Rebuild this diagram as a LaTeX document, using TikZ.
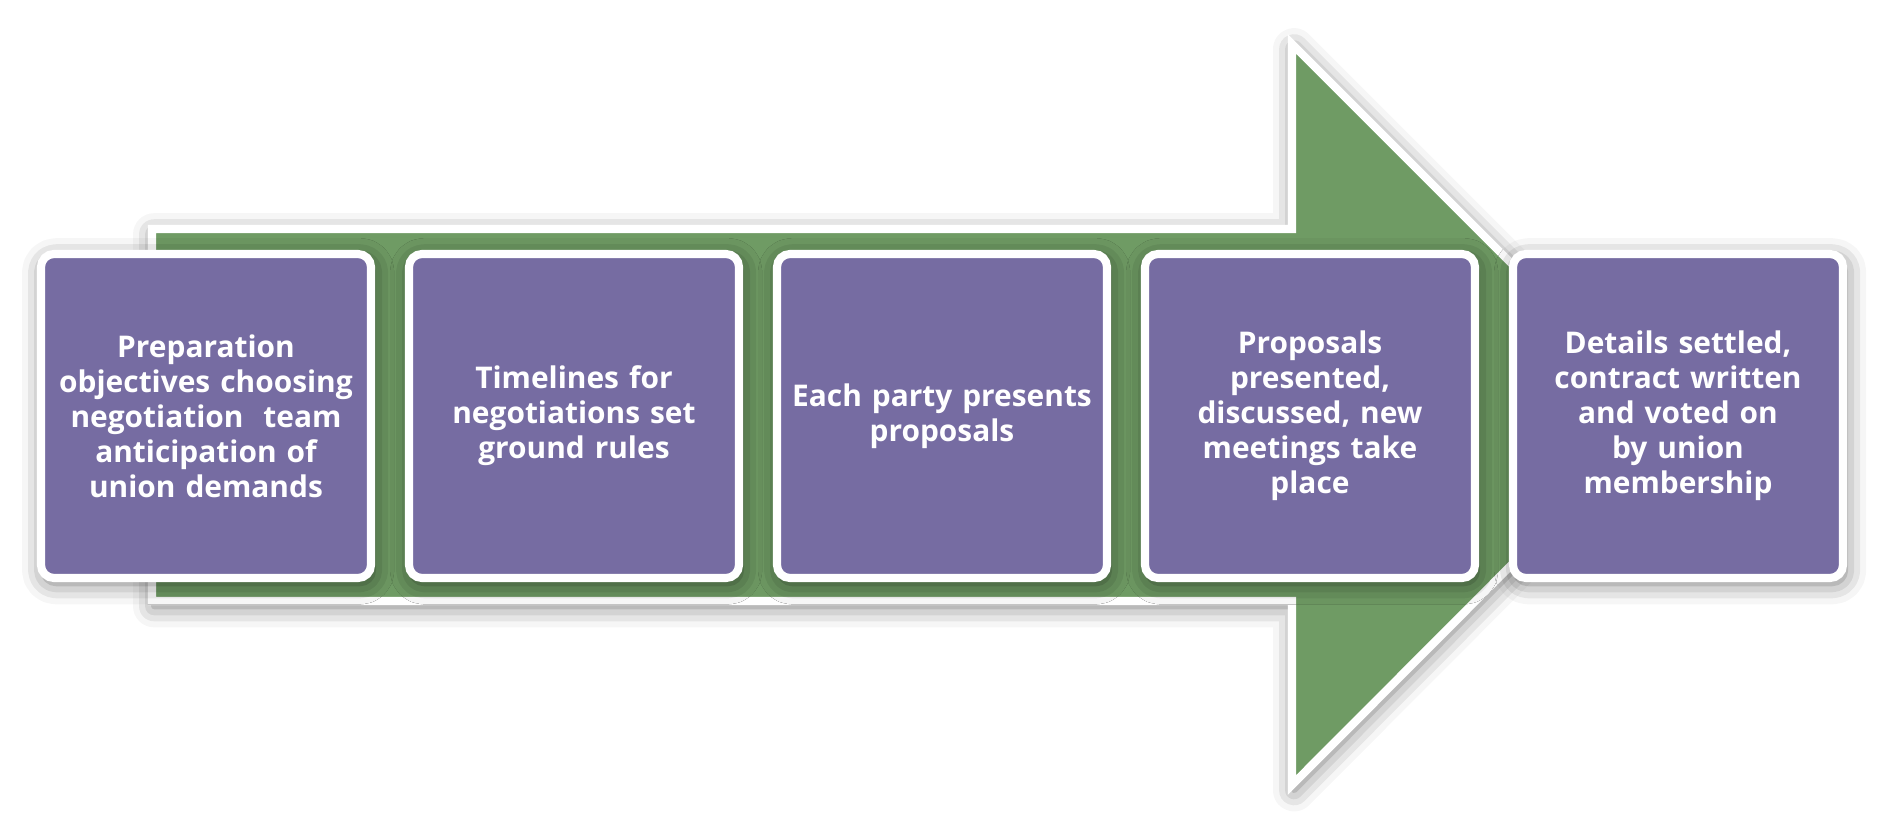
\documentclass[tikz,border=0pt]{standalone}
\usepackage{fontspec}
\setsansfont{Open Sans}
\usetikzlibrary{positioning,shadows.blur}
\definecolor{stepgreen}{RGB}{111,155,100}
\definecolor{steppurple}{RGB}{118,108,162}
\tikzset{
  softshadow/.style={blur shadow={shadow xshift=0.6pt, shadow yshift=-1.5pt, shadow blur radius=6pt, shadow opacity=55}},
  stage/.style={draw=white, line width=2.3pt, fill=steppurple, rounded corners=0.13cm,
    minimum width=3.3cm, minimum height=3.24cm, outer sep=0pt, inner sep=0pt,
    text width=3.2cm, align=center, text=white,
    font=\sffamily\bfseries\fontsize{8.5}{9.96}\selectfont, softshadow},
}
\begin{document}
\begin{tikzpicture}
	\useasboundingbox (0,0) rectangle (18.84,8.31);
	% big arrow behind the stages
	\draw[white, line width=2.3pt, line join=miter, fill=stepgreen, softshadow]
		(1.52,6.02) -- (12.92,6.02) -- (12.92,7.87) -- (16.62,4.17) -- (12.92,0.46) -- (12.92,2.30) -- (1.52,2.30) -- cycle;
	% stages
	\node[stage] (prep) at (2.06,4.15) {Preparation\\ objectives choosing\\ negotiation\ \ team\\ anticipation of\\ union demands};
	\node[stage, right=0.38cm of prep] (timeline) {Timelines for\\ negotiations set\\ ground rules};
	\node[stage, right=0.38cm of timeline] (present) {Each party presents\\ proposals};
	\node[stage, right=0.38cm of present] (discuss) {Proposals\\ presented,\\ discussed, new\\ meetings take\\ place};
	\node[stage, right=0.38cm of discuss] (settle) {Details settled,\\ contract written\\ and voted on\\ by union\\ membership};
\end{tikzpicture}
\end{document}
